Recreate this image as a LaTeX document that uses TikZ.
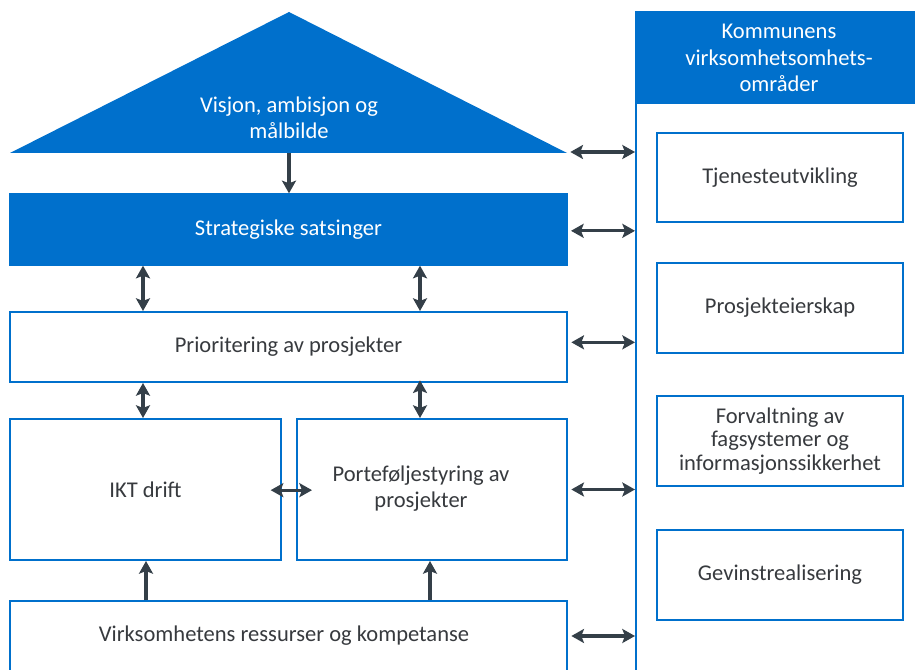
\documentclass[tikz,border=0pt]{standalone}
\usepackage{fontspec}
\setmainfont{Carlito}
\usetikzlibrary{arrows.meta,fit}
\definecolor{blu}{RGB}{0,112,204}
\definecolor{arr}{RGB}{52,63,72}
\definecolor{txt}{RGB}{55,58,62}
\begin{document}
\begin{tikzpicture}[x=0.75pt,y=-0.75pt,
  font=\fontsize{16.9}{19.5}\selectfont,
  wbox/.style={draw=blu, line width=1.5pt, fill=white, inner sep=0pt, text=txt, align=center},
  bbox/.style={draw=blu, fill=blu, line width=1pt, inner sep=0pt, text=white, align=center},
  sz/.style 2 args={minimum width={#1*0.75pt}, minimum height={#2*0.75pt}},
  tip/.tip={Stealth[length=9.5pt,width=10.5pt,inset=2pt]},
  dbl/.style={tip-tip, draw=arr, line width=2.4pt},
  sgl/.style={-tip, draw=arr, line width=2.4pt}]
\useasboundingbox (0,0) rectangle (915,670);
\clip (0,0) rectangle (915,670);

% right column
\node[draw=blu, line width=1.5pt, fill=white, inner sep=0pt, fit={(636,12) (922,700)}] (col) {};
\node[bbox, fit={(636,12) (922,103)}] (colhead) {};
\node[text=white, align=center, font=\fontsize{16.9}{20}\selectfont] (colt) at (779,58) {Kommunens\\virksomhetsomhets-\\områder};
\node[wbox, sz={246}{89}] (r1) at (780,177.5) {Tjenesteutvikling};
\node[wbox, sz={246}{90}] (r2) at (780,308) {Prosjekteierskap};
\node[wbox, sz={246}{90}, font=\fontsize{16.9}{17.5}\selectfont] (r3) at (780,441) {Forvaltning av\\fagsystemer og\\informasjonssikkerhet};
\node[wbox, sz={246}{90}] (r4) at (780,575) {Gevinstrealisering};

% triangle
\fill[blu] (10,153) -- (289,12) -- (567,153) -- cycle;
\coordinate (trib) at (289,153);
\coordinate (trir) at (567,152);
\node[text=white, align=center] (vis) at (289,118) {Visjon, ambisjon og\\målbilde};

% left boxes
\node[bbox, sz={557}{71}] (strat) at (288.5,229.5) {Strategiske satsinger};
\node[wbox, sz={557}{70}] (prio) at (288.5,347) {Prioritering av prosjekter};
\node[wbox, sz={271}{141}] (ikt) at (145.5,489.5) {IKT drift};
\node[wbox, sz={270}{141}] (port) at (432,489.5) {};
\node[text=txt, align=center] (portt) at (421,489) {Porteføljestyring av\\prosjekter};
\node[wbox, sz={557}{72}] (virk) at (288.5,637) {};
\node[text=txt] (virkt) at (284,636) {Virksomhetens ressurser og kompetanse};

% x positions of vertical connectors
\coordinate (xa) at (143,0);
\coordinate (xb) at (420,0);
\coordinate (xc) at (146,0);
\coordinate (xd) at (430,0);

% vertical connectors
\draw[sgl] (trib) -- (strat.north -| trib);
\draw[dbl] (strat.south -| xa) -- (prio.north -| xa);
\draw[dbl] (strat.south -| xb) -- (prio.north -| xb);
\draw[dbl] (prio.south -| xa) -- (ikt.north -| xa);
\draw[dbl] ([yshift=2pt]prio.south -| xb) -- (port.north -| xb);
\draw[sgl] (virk.north -| xc) -- (ikt.south -| xc);
\draw[sgl] (virk.north -| xd) -- (port.south -| xd);
\draw[dbl] ([xshift=-8.5pt,yshift=-0.5pt]ikt.east) -- ([xshift=12pt,yshift=-0.5pt]port.west);

% horizontal connectors to the column
\draw[dbl] ([xshift=2.5pt]trir) -- (trir -| col.west);
\draw[dbl] ([xshift=2.5pt,yshift=-1pt]strat.east) -- ([yshift=-1pt]strat.east -| col.west);
\draw[dbl] ([xshift=2.5pt,yshift=3.5pt]prio.east) -- ([yshift=3.5pt]prio.east -| col.west);
\draw[dbl] ([xshift=2.5pt]port.east) -- (port.east -| col.west);
\draw[dbl] ([xshift=2.5pt]virk.east |- virkt) -- (virkt -| col.west);
\end{tikzpicture}
\end{document}
